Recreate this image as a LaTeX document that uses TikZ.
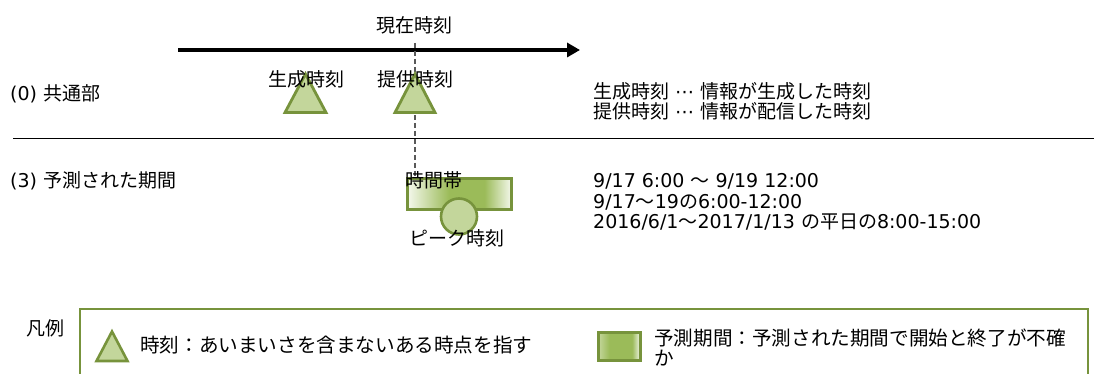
\documentclass[tikz,border=0pt]{standalone}
\usepackage{fontspec}
\setmainfont{Noto Sans CJK JP}
\newfontfamily\lat{DejaVu Sans}
\usetikzlibrary{arrows.meta}
\definecolor{ptolive}{HTML}{77933C}
\definecolor{lgreen}{HTML}{C3D69B}
\definecolor{mgreen}{HTML}{9BBB59}
\definecolor{pale}{HTML}{F4F8EC}
\definecolor{dashgray}{HTML}{595959}
\pgfdeclarehorizontalshading{bandA}{100bp}{color(0bp)=(pale); color(25bp)=(pale); color(45bp)=(mgreen); color(62bp)=(mgreen); color(75bp)=(pale); color(100bp)=(pale)}
\pgfdeclarehorizontalshading{bandB}{100bp}{color(0bp)=(lgreen); color(25bp)=(lgreen); color(38bp)=(mgreen); color(65bp)=(mgreen); color(75bp)=(pale); color(100bp)=(pale)}
\begin{document}
\begin{tikzpicture}[x=1pt,y=-1pt,
  txt/.style={inner sep=0pt,font=\fontsize{19}{20}\selectfont},
  legtxt/.style={inner sep=0pt,font=\fontsize{19.6}{20}\selectfont},
  tri/.style={draw=ptolive,fill=lgreen,line width=2.8pt,line join=miter},
  bandbox/.style={draw=ptolive,line width=2.6pt,inner sep=0pt,shading=bandA},
  peakdot/.style={circle,draw=ptolive,fill=lgreen,line width=2.6pt,inner sep=0pt,minimum size=36pt},
  nowline/.style={draw=dashgray,line width=1.3pt,dash pattern=on 5pt off 3pt},
  rule/.style={line width=1.5pt}]
\useasboundingbox (0,0) rectangle (1094,374);
\clip (0,0) rectangle (1094,374);

% time axis
\coordinate (ax0) at (178,50);
\coordinate (ax1) at (580,50);
\draw[line width=4pt,-{Triangle[length=13pt,width=14pt]}] (ax0) -- (ax1);
\node[txt,anchor=base] (nowlbl) at (414,33) {現在時刻};

% band (period)
\node[bandbox,minimum width=104pt,minimum height=31pt] (band) at (459.5,194) {};

% dashed "now" line
\coordinate (now) at (415,43);
\draw[nowline] (now) -- (now |- band.north);

% triangles
\draw[tri] (285,112.5) -- (305.5,74) -- (326,112.5) -- cycle;
\draw[tri] (395,112.5) -- (415,74) -- (435,112.5) -- cycle;
\node[txt,anchor=base] (gen) at (306,87) {生成時刻};
\node[txt,anchor=base] (prov) at (415,87) {提供時刻};

% peak
\node[peakdot] (peak) at (459,216.5) {};
\node[txt,anchor=base] (bandlbl) at (434,187) {時間帯};
\node[txt,anchor=base] (peaklbl) at (457,245) {ピーク時刻};

% left labels
\node[txt,anchor=base west] (sec0) at (10,101) {{\lat (0) }共通部};
\node[txt,anchor=base west] (sec3) at (10,188) {{\lat (3) }予測された期間};

% right descriptions
\node[txt,anchor=base west] (d1) at (593,99) {生成時刻{\lat\ ⋯\ }情報が生成した時刻};
\node[txt,anchor=base west] (d2) at (593,119) {提供時刻{\lat\ ⋯\ }情報が配信した時刻};
\node[txt,anchor=base west] (e1) at (593,188) {{\lat 9/17 6:00 }〜{\lat\ 9/19 12:00}};
\node[txt,anchor=base west] (e2) at (593,208) {{\lat 9/17}〜{\lat 19}の{\lat 6:00-12:00}};
\node[txt,anchor=base west] (e3) at (593,228) {{\lat 2016/6/1}〜{\lat 2017/1/13 }の平日の{\lat 8:00-15:00}};

% separator
\coordinate (r0) at (13,138.5);
\coordinate (r1) at (1094,138.5);
\draw[rule] (r0) -- (r1);

% legend
\node[draw=ptolive,line width=2.5pt,inner sep=0pt,minimum width=1008pt,minimum height=100pt,anchor=north west] (legend) at (78.5,307.5) {};
\node[txt,anchor=base] (leglbl) at (45,335) {凡例};
\draw[tri,line width=2.6pt] (96.5,361) -- (112,331.5) -- (127.5,361) -- cycle;
\node[legtxt,anchor=base west] (leg1) at (140,352) {時刻：あいまいさを含まないある時点を指す};
\node[draw=ptolive,line width=2.6pt,inner sep=0pt,shading=bandB,minimum width=42pt,minimum height=28pt] (legband) at (619.5,346.5) {};
\node[legtxt,anchor=base west] (leg2a) at (654,345) {予測期間：予測された期間で開始と終了が不確};
\node[legtxt,anchor=base west] (leg2b) at (654,365) {か};
\end{tikzpicture}
\end{document}
